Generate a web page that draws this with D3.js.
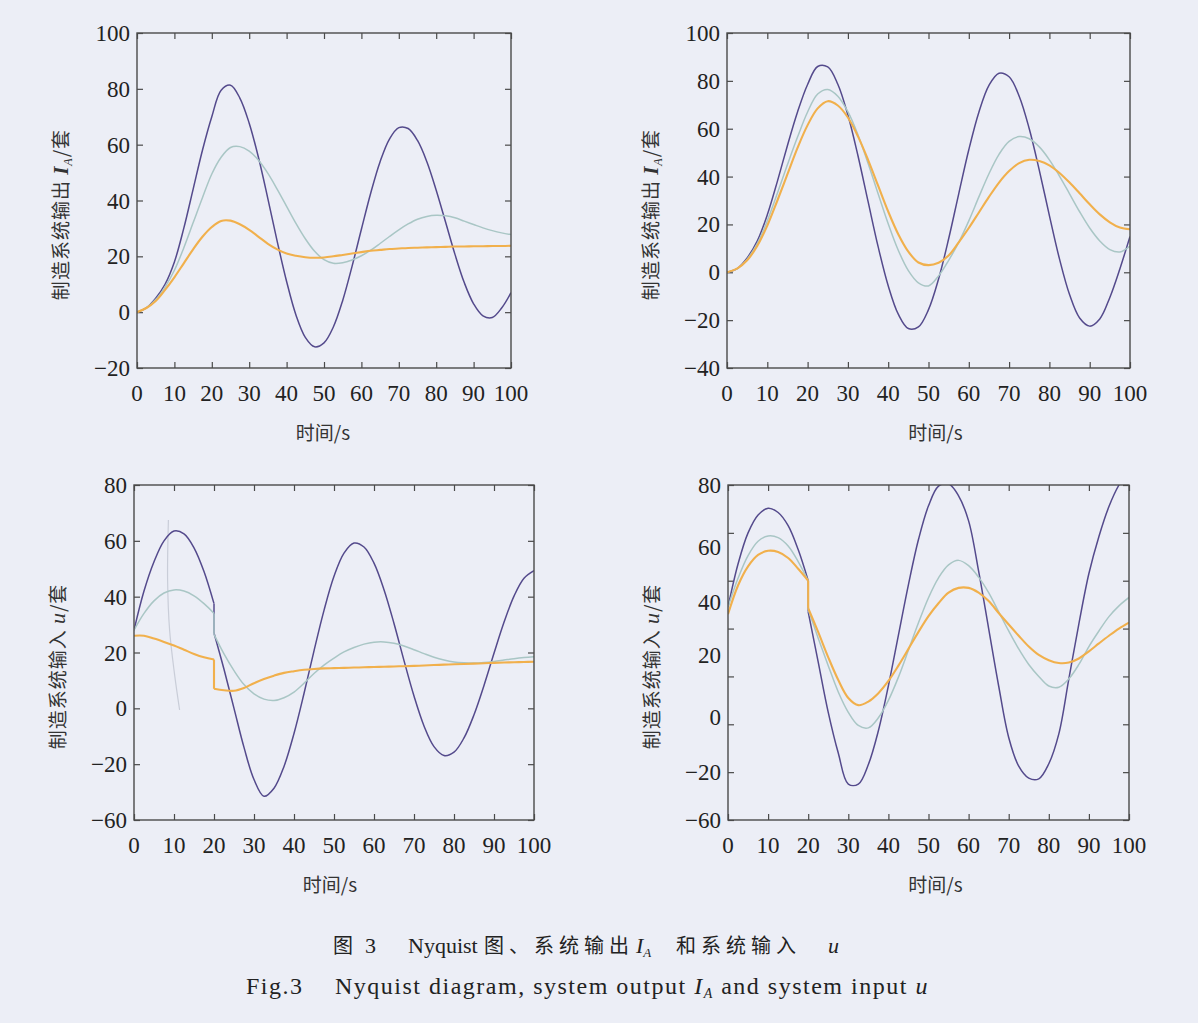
<!DOCTYPE html>
<html>
<head>
<meta charset="utf-8">
<script src="https://cdn.jsdelivr.net/npm/d3@7"></script>
<style>
  body { margin: 0; background: #eceef6; }
  svg { display: block; }
  .num { font-family: "Liberation Serif", "DejaVu Serif", serif; font-size: 23px; fill: #222; }
  .cjk { font-family: "Noto Sans CJK SC", sans-serif; font-size: 19px; fill: #333; }
  .cap { font-family: "Liberation Serif", "Noto Sans CJK SC", serif; font-size: 22px; fill: #222; }
  .capz { font-family: "Noto Sans CJK SC", sans-serif; font-size: 20px; letter-spacing: 5px; fill: #222; }
</style>
</head>
<body>
<svg id="fig" width="1198" height="1023"></svg>
<script>
// time samples (s); the lower panels restart the input at t = 20 s
var tUp = [0,2.5,5,7.5,10,12.5,15,17.5,20,22.5,25,27.5,30,32.5,35,37.5,40,42.5,45,47.5,50,52.5,55,57.5,60,62.5,65,67.5,70,72.5,75,77.5,80,82.5,85,87.5,90,92.5,95,97.5,100];
var tDown = [0,2.5,5,7.5,10,12.5,15,17.5,20,20,22.5,25,27.5,30,32.5,35,37.5,40,42.5,45,47.5,50,52.5,55,57.5,60,62.5,65,67.5,70,72.5,75,77.5,80,82.5,85,87.5,90,92.5,95,97.5,100];
var xTicks = [0,10,20,30,40,50,60,70,80,90,100];

// top left: output I_A
var tlPurple = [0,1.5,5,10,18,30,44,58,70,79.5,81.3,76.7,67.7,55.3,40.6,25.3,11,-1,-9,-12.4,-11,-5.3,4.2,16.4,29.7,42.7,53.9,62,66.1,65.8,61.5,53.9,43.7,32.3,20.8,10.6,3,-1.3,-1.9,1.5,7];
var tlTeal = [0,1.5,4.5,9,15,23,32,41,49.5,55.5,59,59.3,57.7,54.4,49.7,44,37.9,31.8,26.3,21.8,18.8,17.5,17.7,18.7,20.2,22.2,24.6,27.1,29.5,31.6,33.3,34.3,34.7,34.5,33.8,32.6,31.4,30.2,29.2,28.4,27.8];
var tlOrange = [0,1.5,4,8,12.5,17.5,22.5,27,30.5,32.7,32.8,31.5,29.5,27,24.5,22.5,21,20.2,19.7,19.5,19.6,20,20.5,21,21.5,22,22.3,22.6,22.8,23,23.1,23.2,23.3,23.4,23.5,23.5,23.6,23.6,23.7,23.7,23.8];

// top right: output I_A
var trPurple = [0,1.5,6,13,24,38,53,67,78.5,86,85.8,78.6,65.7,48.7,29.6,10.7,-5.6,-17.5,-23.5,-22.8,-15.6,-2.8,14,32.8,51.2,66.9,78.1,83.2,81.7,73.6,60,42.6,23.7,5.6,-9.3,-19.1,-22.5,-19.5,-10.5,1.5,15];
var trTeal = [0,1.5,5.5,12,21.5,33,45,56.5,67,74.5,76.4,73.6,67.1,57.4,45.6,32.8,20.3,9.2,0.7,-4.4,-5.7,-1.5,5,12.5,21.5,31.5,41.2,49.3,54.7,56.7,55.8,52.4,47,40.2,32.8,25.3,18.5,13.1,9.5,8.5,11];
var trOrange = [0,1.5,5,11,19.5,30,41,52,61.5,68.5,71.5,69.7,64.7,56.8,47,36.2,25.4,15.9,8.6,4.1,3,4,7,12.5,18.5,25,31.5,37.5,42.3,45.6,47,46.5,44.7,41.5,37.5,33,28.4,24.2,20.9,18.7,18];

// bottom left: input u
var blPurple = [28,42,52.5,60,63.5,62.5,57.5,49,37.5,27,14,0,-14,-25.5,-31.5,-28.6,-20.8,-9,5.3,20.6,35.1,47.3,55.6,59.2,57.8,52,42.5,30.4,17.1,4.4,-6.3,-13.7,-16.9,-15.7,-10.6,-2.3,8.2,19.7,30.8,40.2,46.6,49.3];
var blTeal = [28,34,38.5,41.3,42.4,42,40.3,37.5,34,26.5,19.5,13.5,8.5,5.2,3.3,2.8,3.8,5.8,9,12.5,15.5,18,20.2,21.8,23,23.7,23.8,23.3,22.3,21,19.6,18.3,17.3,16.6,16.3,16.2,16.4,16.8,17.3,17.8,18.2,18.5];
var blOrange = [26,26,25,23.8,22.5,21,19.5,18.3,17.5,7,6.5,6.3,7.3,9,10.5,11.7,12.7,13.3,13.8,14.1,14.3,14.4,14.5,14.6,14.7,14.8,14.9,15,15.1,15.2,15.35,15.5,15.65,15.8,15.9,16,16.15,16.3,16.4,16.5,16.6,16.7];
// faint stray trace in the scan
var blGhostT = [8.6,8.4,8.9,10.1,11.4];
var blGhostV = [67.5,46,28,12.6,-0.6];

// bottom right: input u
var brPurple = [29,47,60,67.5,70.3,68.5,63,53,40,27,6,-15,-32,-45,-45,-36.8,-22.7,-3.9,17.3,38.4,57.2,71.3,79.5,80.5,75.5,65,44,20,-4,-25.5,-37.5,-42.5,-42.8,-36.5,-24,-1,22,43,58.5,71,80,86];
var brTeal = [29,41,50.5,56.5,58.7,58,54.5,48,40,28,16,4.5,-6.5,-15,-20.5,-21.5,-17.3,-10,-0.3,11,22.4,32.9,41.2,46.6,48.5,46.3,41.5,35,27,19,11.5,5,0,-4,-4.5,-1,5,12.5,19,25,29.5,33];
var brOrange = [26,38,46,50.8,52.5,52,49.5,45,40,28.5,18.5,8,-1.5,-9,-12,-10.5,-7,-1.9,4.5,11.5,18.6,25.2,30.6,35,37,37,35,31.5,26.5,21.7,17,12.5,9,6.8,5.6,5.8,7.5,10.5,13.8,17,20,22.5];

// y ticks and their printed labels (the lower right panel prints 7 labels over 8 ticks)
var tlYTicks = [-20,0,20,40,60,80,100];
var trYTicks = [-40,-20,0,20,40,60,80,100];
var blYTicks = [-40,-20,0,20,40,60,80];
var blYLabels = ["−60","−20","0","20","40","60","80"];
var brYTicks = [-60,-40,-20,0,20,40,60,80];
var brYLabelAt = [-60,-40,-17,9,31,54,80];
var brYLabels = ["−60","−20","0","20","40","60","80"];

var colors = { purple: "#544a8c", teal: "#a9c6c5", orange: "#f1b04c" };

var svg = d3.select("#fig");

function fmt(v) { return v < 0 ? "−" + Math.abs(v) : String(v); }

function drawPanel(p) {
  var x = d3.scaleLinear().domain([0, 100]).range([p.left, p.right]);
  var y = d3.scaleLinear().domain(p.yDomain).range([p.bottom, p.top]);
  var g = svg.append("g");

  var clipId = "clip-" + p.id;
  g.append("clipPath").attr("id", clipId)
    .append("rect")
      .attr("x", p.left).attr("y", p.top)
      .attr("width", p.right - p.left).attr("height", p.bottom - p.top);

  // inward ticks on all four sides
  var tickLen = 6;
  g.append("g").attr("transform", "translate(0," + p.bottom + ")")
    .call(d3.axisBottom(x).tickValues(xTicks).tickSize(-tickLen).tickFormat(""));
  g.append("g").attr("transform", "translate(0," + p.top + ")")
    .call(d3.axisTop(x).tickValues(xTicks).tickSize(-tickLen).tickFormat(""));
  g.append("g").attr("transform", "translate(" + p.left + ",0)")
    .call(d3.axisLeft(y).tickValues(p.yTicks).tickSize(-tickLen).tickFormat(""));
  g.append("g").attr("transform", "translate(" + p.right + ",0)")
    .call(d3.axisRight(y).tickValues(p.yTicks).tickSize(-tickLen).tickFormat(""));
  g.selectAll(".domain").remove();
  g.selectAll(".tick line").attr("stroke", "#4a4a4a").attr("stroke-width", 1.2);

  // x tick labels
  g.selectAll("text.xl").data(xTicks).enter().append("text")
    .attr("class", "num xl")
    .attr("x", function(d) { return x(d); })
    .attr("y", p.bottom + 33)
    .attr("text-anchor", "middle")
    .text(function(d) { return d; });

  // y tick labels
  var labAt = p.yLabelAt || p.yTicks;
  var labTxt = p.yLabels || p.yTicks.map(fmt);
  g.selectAll("text.yl").data(labAt).enter().append("text")
    .attr("class", "num yl")
    .attr("x", p.left - 7)
    .attr("y", function(d) { return y(d) + 8; })
    .attr("text-anchor", "end")
    .text(function(d, i) { return labTxt[i]; });

  // curves: split where the time repeats and join the jump with a straight drop
  var lineFn = d3.line()
    .x(function(d) { return x(d[0]); })
    .y(function(d) { return y(d[1]); })
    .curve(d3.curveCatmullRom.alpha(0.5));

  var plot = g.append("g").attr("clip-path", "url(#" + clipId + ")");

  if (p.ghost) {
    plot.append("path")
      .datum(d3.zip(p.ghost[0], p.ghost[1]))
      .attr("fill", "none")
      .attr("stroke", "#c9cdd8")
      .attr("stroke-width", 1.2)
      .attr("d", lineFn);
  }

  p.series.forEach(function(s) {
    var pts = d3.zip(p.t, s.v);
    var segs = [[pts[0]]];
    for (var i = 1; i < pts.length; i++) {
      if (pts[i][0] === pts[i - 1][0]) {
        plot.append("line")
          .attr("x1", x(pts[i - 1][0])).attr("y1", y(pts[i - 1][1]))
          .attr("x2", x(pts[i][0])).attr("y2", y(pts[i][1]))
          .attr("stroke", s.color).attr("stroke-width", s.w);
        segs.push([pts[i]]);
      } else {
        segs[segs.length - 1].push(pts[i]);
      }
    }
    segs.forEach(function(seg) {
      plot.append("path")
        .datum(seg)
        .attr("fill", "none")
        .attr("stroke", s.color)
        .attr("stroke-width", s.w)
        .attr("stroke-linejoin", "round")
        .attr("d", lineFn);
    });
  });

  // frame
  g.append("rect")
    .attr("x", p.left).attr("y", p.top)
    .attr("width", p.right - p.left).attr("height", p.bottom - p.top)
    .attr("fill", "none").attr("stroke", "#4a4a4a").attr("stroke-width", 1.4);

  // axis titles
  var cx = (p.left + p.right) / 2;
  g.append("text").attr("class", "cjk")
    .attr("x", cx + p.xtDx).attr("y", p.bottom + 72)
    .attr("text-anchor", "middle")
    .text("时间/s");

  var yt = g.append("text").attr("class", "cjk")
    .attr("transform", "translate(" + (p.left - 69) + "," + ((p.top + p.bottom) / 2 + 14) + ") rotate(-90)")
    .attr("text-anchor", "middle")
    .attr("letter-spacing", 1);
  yt.append("tspan").text(p.yTitle + " ");
  if (p.yVar === "I") {
    yt.append("tspan").attr("font-family", "Liberation Serif").attr("font-style", "italic")
      .attr("font-weight", "bold").attr("font-size", 21).text("I");
    yt.append("tspan").attr("font-family", "Liberation Serif").attr("font-style", "italic")
      .attr("font-size", 12).attr("dy", 4).text("A");
    yt.append("tspan").attr("dy", -4).text("/套");
  } else {
    yt.append("tspan").attr("font-family", "Liberation Serif").attr("font-style", "italic")
      .attr("font-size", 22).text("u");
    yt.append("tspan").text("/套");
  }
}

var series = function(a, b, c) {
  return [
    { v: a, color: colors.purple, w: 1.5 },
    { v: b, color: colors.teal, w: 1.5 },
    { v: c, color: colors.orange, w: 2.1 }
  ];
};

drawPanel({ id: "tl", left: 137, right: 511, top: 33, bottom: 368, yDomain: [-20, 100], yTicks: tlYTicks,
  t: tUp, series: series(tlPurple, tlTeal, tlOrange), yTitle: "制造系统输出", yVar: "I", xtDx: -1 });
drawPanel({ id: "tr", left: 727, right: 1130, top: 33, bottom: 368, yDomain: [-40, 100], yTicks: trYTicks,
  t: tUp, series: series(trPurple, trTeal, trOrange), yTitle: "制造系统输出", yVar: "I", xtDx: 7 });
drawPanel({ id: "bl", left: 134, right: 534, top: 485, bottom: 820, yDomain: [-40, 80], yTicks: blYTicks,
  yLabels: blYLabels, t: tDown, series: series(blPurple, blTeal, blOrange),
  ghost: [blGhostT, blGhostV], yTitle: "制造系统输入", yVar: "u", xtDx: -4 });
drawPanel({ id: "br", left: 728, right: 1129, top: 485, bottom: 820, yDomain: [-60, 80], yTicks: brYTicks,
  yLabelAt: brYLabelAt, yLabels: brYLabels, t: tDown, series: series(brPurple, brTeal, brOrange),
  yTitle: "制造系统输入", yVar: "u", xtDx: 7 });

// figure caption
var c1 = svg.append("text").attr("y", 953);
c1.append("tspan").attr("class", "capz").attr("x", 333).text("图");
c1.append("tspan").attr("class", "cap").attr("x", 365).text("3");
c1.append("tspan").attr("class", "cap").attr("x", 408).text("Nyquist");
c1.append("tspan").attr("class", "capz").attr("x", 484).text("图、系统输出");
c1.append("tspan").attr("class", "cap").attr("x", 636).style("font-style", "italic").text("I");
c1.append("tspan").attr("class", "cap").style("font-style", "italic").style("font-size", "13px")
  .attr("dy", 4).text("A");
c1.append("tspan").attr("class", "capz").attr("x", 676).attr("dy", -4).text("和系统输入");
c1.append("tspan").attr("class", "cap").attr("x", 828).style("font-style", "italic").text("u");

var c2 = svg.append("text").attr("class", "cap").attr("y", 994)
  .style("font-size", "24px").attr("letter-spacing", 1.5);
c2.append("tspan").attr("x", 246).text("Fig.3");
c2.append("tspan").attr("x", 335).text("Nyquist diagram, system output ");
c2.append("tspan").style("font-style", "italic").text("I");
c2.append("tspan").style("font-style", "italic").style("font-size", "14px").attr("dy", 4).text("A");
c2.append("tspan").attr("dy", -4).text(" and system input ");
c2.append("tspan").style("font-style", "italic").text("u");
</script>
</body>
</html>
